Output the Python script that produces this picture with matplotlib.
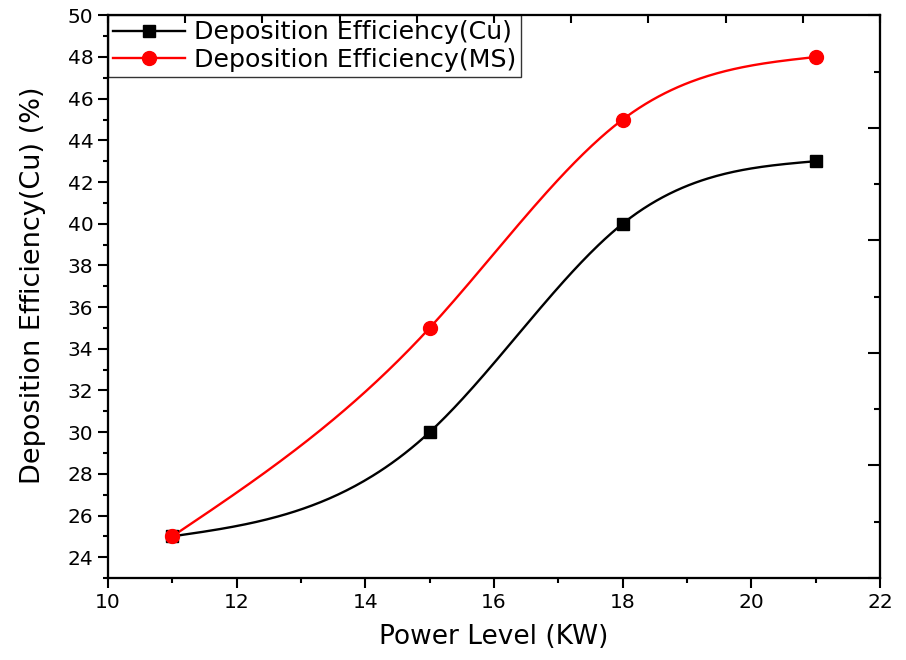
import matplotlib
matplotlib.use("Agg")
import matplotlib.pyplot as plt
import numpy as np
from matplotlib.ticker import MultipleLocator

plt.rcParams['font.family'] = ['DejaVu Sans']

# data
power = [11, 15, 18, 21]
eff_cu = [25, 30, 40, 43]
eff_ms = [25, 35, 45, 48]


def natural_spline(x, y, n=300):
    # plain natural cubic spline, like the "spline" line in Origin
    x = np.asarray(x, float)
    y = np.asarray(y, float)
    h = np.diff(x)
    d = np.diff(y) / h
    k = len(x)
    A = np.zeros((k, k))
    b = np.zeros(k)
    A[0, 0] = A[-1, -1] = 1
    for i in range(1, k - 1):
        A[i, i - 1] = h[i - 1]
        A[i, i] = 2 * (h[i - 1] + h[i])
        A[i, i + 1] = h[i]
        b[i] = 6 * (d[i] - d[i - 1])
    M = np.linalg.solve(A, b)
    xs = np.linspace(x[0], x[-1], n)
    idx = np.clip(np.searchsorted(x, xs) - 1, 0, k - 2)
    x0, x1 = x[idx], x[idx + 1]
    hh = h[idx]
    ys = (M[idx] * (x1 - xs) ** 3 / (6 * hh) + M[idx + 1] * (xs - x0) ** 3 / (6 * hh)
          + (y[idx] / hh - M[idx] * hh / 6) * (x1 - xs)
          + (y[idx + 1] / hh - M[idx + 1] * hh / 6) * (xs - x0))
    return xs, ys


fig = plt.figure(figsize=(9.06, 6.6), dpi=100)
ax = fig.add_axes([0.1192, 0.1242, 0.8521, 0.8526])

for yv, col, mk, ms, lab in [(eff_cu, 'black', 's', 9, 'Deposition Efficiency(Cu)'),
                             (eff_ms, 'red', 'o', 10, 'Deposition Efficiency(MS)')]:
    xs, ys = natural_spline(power, yv)
    ax.plot(xs, ys, color=col, lw=1.7, zorder=2)
    ax.plot(power, yv, linestyle='none', marker=mk, ms=ms, color=col, zorder=3)
    ax.plot([], [], color=col, lw=1.7, marker=mk, ms=ms, label=lab)

ax.set_xlim(10, 22)
ax.set_ylim(23, 50)
ax.xaxis.set_major_locator(MultipleLocator(2))
ax.xaxis.set_minor_locator(MultipleLocator(1))
ax.yaxis.set_major_locator(MultipleLocator(2))
ax.yaxis.set_minor_locator(MultipleLocator(1))
ax.tick_params(which='major', direction='out', length=7, width=1.5, labelsize=14.5,
               top=False, right=False)
ax.tick_params(which='minor', direction='out', length=3.5, width=1.5, top=False, right=False)
for s in ax.spines.values():
    s.set_linewidth(1.5)

ax.set_xlabel('Power Level (KW)', fontsize=19, labelpad=9)
ax.set_ylabel('Deposition Efficiency(Cu) (%)', fontsize=19.5)
ax.yaxis.set_label_coords(-0.080, 0.5195)

leg = ax.legend(loc='upper left', borderaxespad=0, fontsize=18.2, frameon=True,
                fancybox=False, handlelength=2.85, handletextpad=0.35,
                labelspacing=0.14, borderpad=0.2)
leg.get_frame().set_edgecolor('black')
leg.get_frame().set_linewidth(1.0)

# unlabelled top / right tick rows of the original layer
top = ax.twiny()
top.set_xlim(0, 10)
top.set_xticks(range(11))
top.tick_params(axis='x', direction='in', length=6, width=1.5, labeltop=False)
right = ax.twinx()
right.set_ylim(0, 5)
right.yaxis.set_major_locator(MultipleLocator(1))
right.yaxis.set_minor_locator(MultipleLocator(0.5))
right.tick_params(axis='y', which='major', direction='in', length=8.5, width=1.5, labelright=False)
right.tick_params(axis='y', which='minor', direction='in', length=4, width=1.5)
for a in (top, right):
    for s in a.spines.values():
        s.set_linewidth(1.5)

fig.savefig('out.png', dpi=100)
